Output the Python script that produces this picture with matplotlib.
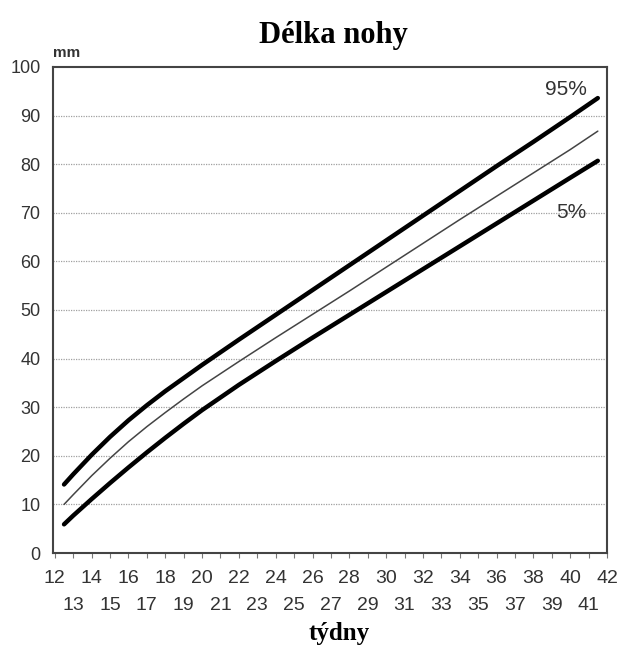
import numpy as np
import matplotlib
matplotlib.use('Agg')
import matplotlib.pyplot as plt
from matplotlib.ticker import FixedLocator

# gestational week vs. foot length (mm)
weeks = [12.5, 13, 14, 15, 16, 17, 18, 19, 20, 22, 24, 26, 28, 30, 32, 34, 36, 38, 40, 41.5]
p95 = [14.1, 16.2, 20.2, 23.9, 27.3, 30.4, 33.3, 36.0, 38.7, 43.9, 49.0, 54.1, 59.2, 64.3,
       69.4, 74.5, 79.6, 84.6, 89.7, 93.6]
p50 = [10.0, 12.0, 15.9, 19.5, 22.9, 26.0, 28.9, 31.7, 34.4, 39.4, 44.3, 49.1, 53.9, 58.8,
       63.7, 68.6, 73.4, 78.2, 83.0, 86.8]
p05 = [5.9, 7.7, 11.1, 14.4, 17.6, 20.7, 23.7, 26.6, 29.4, 34.6, 39.5, 44.3, 49.0, 53.7,
       58.4, 63.1, 67.8, 72.5, 77.2, 80.7]

even_weeks = list(range(12, 43, 2))
odd_weeks = list(range(13, 42, 2))
y_ticks = list(range(0, 101, 10))

sans = 'Liberation Sans'
serif = 'Liberation Serif'
txt_col = '#333333'

fig = plt.figure(figsize=(6.22, 6.49), dpi=100)
ax = fig.add_axes([0.0852, 0.1479, 0.8907, 0.7489])

ax.plot(weeks, p95, color='black', linewidth=3.2, solid_capstyle='round')
ax.plot(weeks, p50, color='#444444', linewidth=1.1, solid_capstyle='round')
ax.plot(weeks, p05, color='black', linewidth=3.2, solid_capstyle='round')

ax.set_xlim(11.9, 42)
ax.set_ylim(0, 100)

for v in y_ticks[1:-1]:
    ax.axhline(v, color='#a0a0a0', linewidth=0.9, linestyle=(0, (1, 1)), zorder=0)

ax.xaxis.set_major_locator(FixedLocator(even_weeks))
ax.xaxis.set_minor_locator(FixedLocator(odd_weeks))
ax.set_xticklabels([str(w) for w in even_weeks], fontsize=14, family=sans, color=txt_col)
ax.set_xticklabels([str(w) for w in odd_weeks], minor=True, fontsize=14, family=sans, color=txt_col)
ax.tick_params(axis='x', which='major', direction='out', length=3.5, width=0.8, color='#777777', pad=9)
ax.tick_params(axis='x', which='minor', direction='out', length=3.5, width=0.8, color='#777777', pad=28)

ax.set_yticks(y_ticks)
ax.set_yticklabels([str(v) for v in y_ticks], fontsize=13, family=sans, color=txt_col)
ax.tick_params(axis='y', length=0, pad=9)

for sp in ax.spines.values():
    sp.set_color('#444444')
    sp.set_linewidth(1.5)

ax.text(40.9, 95.3, '95%', ha='right', va='center', fontsize=15, family=sans, color=txt_col)
ax.text(40.9, 70.0, '5%', ha='right', va='center', fontsize=15, family=sans, color=txt_col)

fig.text(0.085, 0.918, 'mm', ha='left', va='center', fontsize=11, family=sans,
         fontweight='bold', color=txt_col)
fig.text(0.536, 0.945, 'Délka nohy', ha='center', va='center', fontsize=22,
         family=serif, fontweight='bold')
fig.text(0.545, 0.024, 'týdny', ha='center', va='center', fontsize=18,
         family=serif, fontweight='bold')

fig.savefig('out.png', dpi=100)
